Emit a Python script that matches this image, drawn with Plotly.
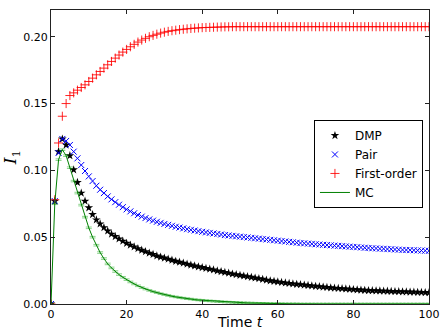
import plotly.graph_objects as go

# time steps
t = list(range(0, 101))

dmp = [0.0, 0.077, 0.114, 0.1235, 0.119, 0.111, 0.1005, 0.091, 0.083, 0.077,
       0.072, 0.067, 0.063, 0.060, 0.0572, 0.0547, 0.0523, 0.0505, 0.0488, 0.0471,
       0.0455, 0.0441, 0.0428, 0.0415, 0.0403, 0.0392, 0.0381, 0.0371, 0.0360, 0.0352,
       0.0344, 0.0336, 0.0328, 0.0320, 0.0313, 0.0306, 0.0299, 0.0292, 0.0285, 0.0279,
       0.0273, 0.0267, 0.0261, 0.0256, 0.0248, 0.0243, 0.0237, 0.0231, 0.0225, 0.0220,
       0.0215, 0.0210, 0.0205, 0.0200, 0.0195, 0.0190, 0.0185, 0.0179, 0.0174, 0.0170,
       0.0166, 0.0162, 0.0158, 0.0155, 0.0151, 0.0148, 0.0145, 0.0142, 0.0139, 0.0136,
       0.0133, 0.0130, 0.0127, 0.0125, 0.0122, 0.0119, 0.0117, 0.0115, 0.0113, 0.0111,
       0.0109, 0.0107, 0.0105, 0.0103, 0.0101, 0.0100, 0.0099, 0.0098, 0.0097, 0.0096,
       0.0095, 0.0094, 0.0093, 0.0092, 0.0091, 0.0090, 0.0089, 0.0088, 0.0087, 0.0086,
       0.0085]

pair = [0.0, 0.077, 0.113, 0.1235, 0.122, 0.119, 0.114, 0.109, 0.104, 0.0995,
        0.0955, 0.092, 0.0885, 0.0855, 0.083, 0.0805, 0.0783, 0.0762, 0.0743, 0.0725,
        0.0708, 0.0693, 0.0679, 0.0666, 0.0654, 0.0643, 0.0633, 0.0624, 0.0615, 0.0607,
        0.0599, 0.0592, 0.0585, 0.0578, 0.0572, 0.0566, 0.0560, 0.0555, 0.0550, 0.0545,
        0.0540, 0.0536, 0.0532, 0.0528, 0.0524, 0.0520, 0.0516, 0.0513, 0.0510, 0.0507,
        0.0504, 0.0501, 0.0498, 0.0495, 0.0492, 0.0489, 0.0486, 0.0483, 0.0480, 0.0477,
        0.0474, 0.0471, 0.0468, 0.0465, 0.0462, 0.0459, 0.0456, 0.0454, 0.0452, 0.0450,
        0.0447, 0.0445, 0.0443, 0.0441, 0.0439, 0.0437, 0.0435, 0.0433, 0.0431, 0.0429,
        0.0427, 0.0425, 0.0423, 0.0421, 0.0419, 0.0417, 0.0416, 0.0414, 0.0413, 0.0411,
        0.0410, 0.0408, 0.0407, 0.0405, 0.0404, 0.0403, 0.0402, 0.0401, 0.0400, 0.0399,
        0.0398]

first_order = [0.0, 0.078, 0.1205, 0.1405, 0.150, 0.156, 0.158, 0.160, 0.162, 0.164,
               0.1665, 0.169, 0.1715, 0.174, 0.1765, 0.179, 0.1815, 0.184, 0.1863, 0.1885,
               0.1905, 0.1925, 0.1943, 0.196, 0.1975, 0.1988, 0.200, 0.201, 0.2019, 0.2027,
               0.2034, 0.2040, 0.2045, 0.2049, 0.2053, 0.2056, 0.2059, 0.2062, 0.2064, 0.2066,
               0.2068, 0.2069, 0.2070, 0.2071, 0.2072, 0.2073, 0.2074, 0.2074, 0.2075, 0.2075,
               0.2075, 0.2075, 0.2075, 0.2075, 0.2075, 0.2075, 0.2075, 0.2075, 0.2075, 0.2075,
               0.2075, 0.2075, 0.2075, 0.2075, 0.2075, 0.2075, 0.2075, 0.2075, 0.2075, 0.2075,
               0.2075, 0.2075, 0.2075, 0.2075, 0.2075, 0.2075, 0.2075, 0.2075, 0.2075, 0.2075,
               0.2075, 0.2075, 0.2075, 0.2075, 0.2075, 0.2075, 0.2075, 0.2075, 0.2075, 0.2075,
               0.2075, 0.2075, 0.2075, 0.2075, 0.2075, 0.2075, 0.2075, 0.2075, 0.2075, 0.2075,
               0.2075]

mc = [0.0, 0.075, 0.108, 0.1155, 0.111, 0.102, 0.092, 0.083, 0.074, 0.065,
      0.057, 0.050, 0.044, 0.0385, 0.034, 0.030, 0.027, 0.0243, 0.022, 0.020,
      0.0182, 0.0165, 0.015, 0.0136, 0.0123, 0.0112, 0.0102, 0.0093, 0.0085, 0.0077,
      0.0070, 0.0064, 0.0058, 0.0053, 0.0048, 0.0044, 0.0040, 0.0037, 0.0033, 0.0030,
      0.0028, 0.0025, 0.0023, 0.0021, 0.0019, 0.0017, 0.0015, 0.0014, 0.0012, 0.0011,
      0.0010, 0.0009, 0.0008, 0.0007, 0.0006, 0.0005, 0.0005, 0.0004, 0.0003, 0.0003,
      0.0002, 0.0002, 0.0001, 0.0001, 0.0001, 0.0001, 0.0, 0.0, 0.0, 0.0,
      0.0, 0.0, 0.0, 0.0, 0.0, 0.0, 0.0, 0.0, 0.0, 0.0,
      0.0, 0.0, 0.0, 0.0, 0.0, 0.0, 0.0, 0.0, 0.0, 0.0,
      0.0, 0.0, 0.0, 0.0, 0.0, 0.0, 0.0, 0.0, 0.0, 0.0,
      0.0]
mc_err = [0.0006] * len(mc)

fig = go.Figure()
fig.add_trace(go.Scatter(x=t, y=dmp, name="DMP", mode="markers",
                         marker=dict(symbol="star", size=6.5, color="black")))
fig.add_trace(go.Scatter(x=t, y=pair, name="Pair", mode="markers",
                         marker=dict(symbol="x-thin", size=6, color="blue",
                                     line=dict(color="blue", width=1))))
fig.add_trace(go.Scatter(x=t, y=first_order, name="First-order", mode="markers",
                         marker=dict(symbol="cross-thin", size=6.5, color="red",
                                     line=dict(color="rgba(255,0,0,0.85)", width=1))))
fig.add_trace(go.Scatter(x=t, y=mc, name="MC", mode="lines",
                         line=dict(color="green", width=1),
                         error_y=dict(type="data", array=mc_err, visible=True,
                                      color="rgba(0,160,0,0.45)", thickness=1, width=3)))

axis_style = dict(showline=True, linecolor="#222", linewidth=1, mirror="ticks",
                  ticks="inside", ticklen=4, tickcolor="#222", showgrid=False,
                  zeroline=False, automargin=False,
                  tickfont=dict(family="DejaVu Sans", size=11, color="black"))

fig.update_xaxes(range=[0, 100], tickvals=[0, 20, 40, 60, 80, 100], **axis_style)
fig.update_yaxes(range=[0, 0.22], tickvals=[0, 0.05, 0.10, 0.15, 0.20], tickformat=".2f",
                 title=dict(text="<i>I</i><sub>1</sub>", font=dict(family="DejaVu Serif", size=17, color="black"),
                            standoff=6),
                 **axis_style)

# x label placed by hand, a bit closer to the ticks than plotly's title would sit
fig.add_annotation(text="Time <i>t</i>", xref="paper", yref="paper", x=0.5, y=-0.062,
                   xanchor="center", yanchor="middle", showarrow=False,
                   font=dict(family="DejaVu Sans", size=14, color="black"))

fig.update_layout(width=443, height=335, margin=dict(l=51, r=14, t=10, b=31),
                  plot_bgcolor="white", paper_bgcolor="white",
                  font=dict(family="DejaVu Sans", size=11, color="black"),
                  legend=dict(x=0.984, y=0.626, xanchor="right", yanchor="top",
                              bgcolor="white", bordercolor="black", borderwidth=1,
                              font=dict(size=12), tracegroupgap=0, itemwidth=30))

# page body has a default 8px margin; drop it so the figure sits at the corner
fig.write_html("out.html", config={"displayModeBar": False},
               post_script="document.body.style.margin='0';")
